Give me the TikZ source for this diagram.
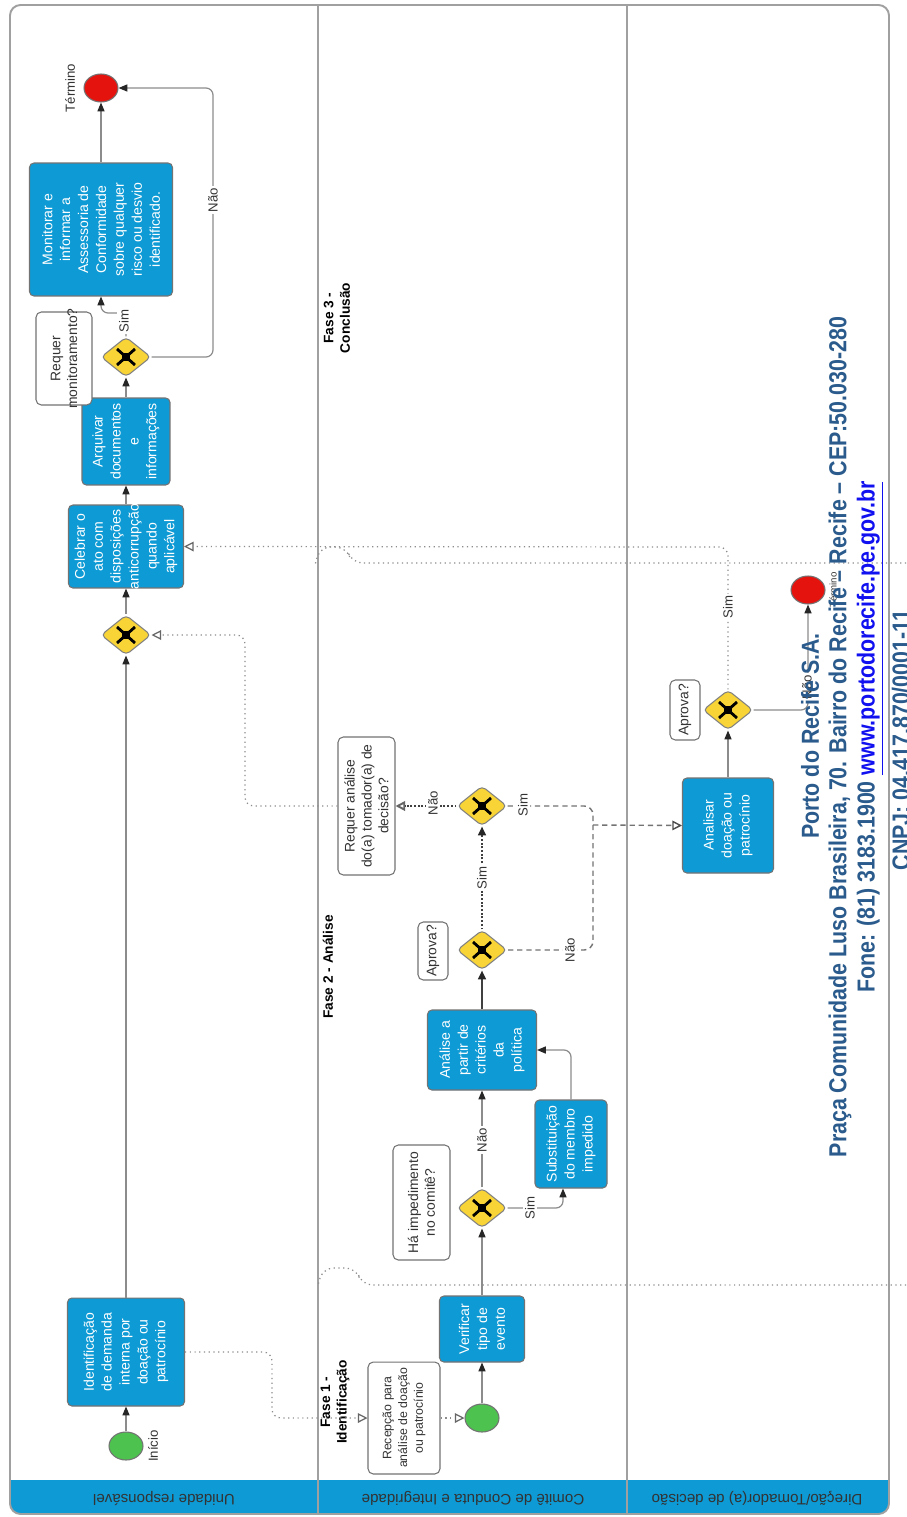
\documentclass[tikz,border=0pt]{standalone}
\usepackage{fontspec}
\usepackage{graphicx}
\setmainfont{Liberation Sans}
\newfontfamily\footfont[FakeStretch=0.87]{Liberation Sans}
\usetikzlibrary{arrows.meta,shapes.geometric,calc}
\definecolor{bpblue}{HTML}{0D9AD5}
\definecolor{gwyellow}{HTML}{F8D437}
\definecolor{stgreen}{HTML}{4DC24F}
\definecolor{enred}{HTML}{E5130E}
\definecolor{footblue}{HTML}{2A5B8C}
\definecolor{linkblue}{HTML}{1010F0}
\definecolor{lgray}{HTML}{8C8C8C}
\definecolor{fgray}{HTML}{A0A0A0}
\pgfdeclarelayer{bg}
\pgfsetlayers{bg,main}
\tikzset{
 taskbox/.style={draw=black!55, fill=bpblue, rounded corners=2.5pt, line width=0.6pt, inner sep=0pt},
 tasktext/.style={rotate=90, text=white, align=center, font=\fontsize{8}{10.2}\selectfont, inner sep=0pt},
 annbox/.style={draw=black!55, fill=white, rounded corners=3pt, line width=0.6pt, inner sep=0pt},
 anntext/.style={rotate=90, text=black!80, align=center, font=\fontsize{7.9}{9.6}\selectfont, inner sep=0pt},
 gw/.style={diamond, draw=black!50, fill=gwyellow, minimum width=1cm, minimum height=0.8cm, inner sep=0pt, rounded corners=2.5pt, line width=0.6pt},
 gwx/.style={line width=1.6pt, black},
 startev/.style={ellipse, draw=black!55, fill=stgreen, minimum width=0.68cm, minimum height=0.56cm, inner sep=0pt, line width=0.6pt},
 endev/.style={ellipse, draw=black!55, fill=enred, minimum width=0.68cm, minimum height=0.56cm, inner sep=0pt, line width=0.6pt},
 flow/.style={draw=lgray, line width=0.7pt, rounded corners=4pt, -{Triangle[length=5pt,width=4pt,color=black!85]}},
 msg/.style={draw=black!45, dotted, line width=0.7pt, rounded corners=5pt, -{Triangle[open,length=5.5pt,width=5.5pt,color=black!60]}},
 strongdot/.style={draw=black!75, densely dotted, line width=1.1pt},
 dashln/.style={draw=black!55, dash pattern=on 3pt off 2.2pt, line width=0.8pt, rounded corners=5pt},
 phase/.style={draw=black!45, dotted, line width=0.7pt, rounded corners=6pt},
 lbl/.style={rotate=90, font=\fontsize{7.5}{9}\selectfont, text=black!80, fill=white, inner sep=1pt},
 phaselbl/.style={rotate=90, font=\bfseries\fontsize{7.8}{9.4}\selectfont, align=center, inner sep=1pt, fill=white},
 lanelbl/.style={rotate=180, font=\fontsize{8.6}{10}\selectfont, text=black!80},
 foot/.style={rotate=90, text=footblue, font=\footfont\bfseries\fontsize{14}{17}\selectfont, inner sep=0pt}
}
\newcommand{\mytask}[6]{%
 \node[taskbox, minimum width=#4cm, minimum height=#5cm] (#1) at (#2,#3) {};
 \node[tasktext] (#1-t) at (#1.center) {#6};}
\newcommand{\myannot}[6]{%
 \node[annbox, minimum width=#4cm, minimum height=#5cm] (#1) at (#2,#3) {};
 \node[anntext] (#1-t) at (#1.center) {#6};}
\begin{document}
\begin{tikzpicture}[x=0.02cm,y=-0.02cm]
\useasboundingbox (0,0) rectangle (906,1517);
\begin{pgfonlayer}{bg}
 \fill[white] (0,0) rectangle (906,1517);
 \fill[bpblue, rounded corners=6pt] (10,1470) rectangle (889,1514);
 \fill[white] (11,1460) rectangle (888,1480);
 \draw[fgray, line width=1.1pt, rounded corners=6pt] (10,5) rectangle (889,1514);
 \draw[fgray, line width=1pt] (318,5) -- (318,1514);
 \draw[fgray, line width=1pt] (627,5) -- (627,1514);
 \draw[phase] (906,1285) -- (362,1285) -- (356,1268) -- (323,1268) -- (318,1285);
 \draw[phase] (906,563) -- (352,563) -- (346,547) -- (320,547) -- (315,565);
\end{pgfonlayer}

% lane labels
\node[lanelbl] (ln1) at (164,1498) {Unidade responsável};
\node[lanelbl] (ln2) at (473,1498) {Comitê de Conduta e Integridade};
\node[lanelbl] (ln3) at (757,1498) {Direção/Tomador(a) de decisão};

% lane 1
\node[startev] (start1) at (126,1446) {};
\node[lbl, fill=none] (start1-l) at (153,1446) {Início};
\mytask{idbox}{126}{1352}{2.34}{2.16}{Identificação\\de demanda\\interna por\\doação ou\\patrocínio}
\node[gw] (g5) at (126,635) {};
\mytask{celebrar}{126}{546.5}{2.30}{1.66}{Celebrar o\\ato com\\disposições\\anticorrupção\\quando\\aplicável}
\mytask{arquivar}{126}{441.5}{1.76}{1.74}{Arquivar\\documentos\\e\\informações}
\node[gw] (g6) at (126,357) {};
\myannot{amon}{64}{358.5}{1.12}{1.86}{Requer\\monitoramento?}
\mytask{monitorar}{101}{229.5}{2.86}{2.66}{Monitorar e\\informar a\\Assessoria de\\Conformidade\\sobre qualquer\\risco ou desvio\\identificado.}
\node[endev] (end1) at (101,88) {};
\node[lbl, fill=none] (end1-l) at (70,88) {Término};

% lane 2
\node[startev] (start2) at (482,1418) {};
\node[annbox, minimum width=1.44cm, minimum height=2.24cm] (recep) at (404,1418) {};
\node[anntext, font=\fontsize{7}{9}\selectfont] (recep-t) at (recep.center) {Recepção para\\análise de doação\\ou patrocínio};
\mytask{verificar}{482}{1329}{1.70}{1.32}{Verificar\\tipo de\\evento}
\node[gw] (g1) at (482,1208) {};
\myannot{imped}{421.5}{1202.5}{1.14}{2.30}{Há impedimento\\no comitê?}
\mytask{subst}{571}{1144}{1.44}{1.76}{Substituição\\do membro\\impedido}
\mytask{analise}{482}{1050}{2.18}{1.60}{Análise a\\partir de\\critérios\\da\\política}
\node[gw] (g2) at (482,950) {};
\myannot{aprova1}{433}{951}{0.60}{1.16}{Aprova?}
\node[gw] (g3) at (482,806) {};
\myannot{requer}{366.5}{806}{1.14}{2.76}{Requer análise\\do(a) tomador(a) de\\decisão?}

% lane 3
\mytask{analisar}{728}{825.5}{1.82}{1.90}{Analisar\\doação ou\\patrocínio}
\node[gw] (g4) at (728,710) {};
\myannot{aprova2}{685}{710}{0.60}{1.20}{Aprova?}
\node[endev] (end2) at (808,590) {};
\node[lbl, fill=none, font=\fontsize{5.5}{6}\selectfont] (end2-l) at (833,590) {Término};

% gateway marks
\foreach \g in {g1,g2,g3,g4,g5,g6}{
 \draw[gwx] ($(\g)+(-9,-8)$) -- ($(\g)+(9,8)$);
 \draw[gwx] ($(\g)+(-9,8)$) -- ($(\g)+(9,-8)$);
 \fill[black] ($(\g)+(-4,-4)$) rectangle ($(\g)+(4,4)$);
}

% phase labels
\node[phaselbl] (ph1) at (335,1402) {Fase 1 -\\Identificação};
\node[phaselbl] (ph2) at (328,967) {Fase 2 - Análise};
\node[phaselbl] (ph3) at (337,318) {Fase 3 -\\Conclusão};

% sequence flows
\draw[flow] (start1) -- (idbox);
\draw[flow] (idbox) -- (g5);
\draw[flow] (g5) -- (celebrar);
\draw[flow] (celebrar) -- (arquivar);
\draw[flow] (arquivar) -- (g6);
\draw[flow] (g6.north) -- (126,313) -| (monitorar.south);
\node[lbl] (l-sim6) at (124,321) {Sim};
\draw[flow] (g6.east) -- (213,357) -- (213,88) -- (end1.east);
\node[lbl] (l-nao6) at (213,200) {Não};
\draw[flow] (monitorar) -- (end1);

\draw[msg] (idbox.east) -- (272,1352) -- (272,1418) -- (recep.west);
\draw[msg] (recep.east) -- (start2.west);
\draw[flow] (start2) -- (verificar);
\draw[flow] (verificar) -- (g1);
\draw[flow] (g1) -- (analise);
\node[lbl] (l-nao1) at (482,1140) {Não};
\draw[flow] (g1.east) -| ([xshift=-0.16cm]subst.south);
\node[lbl] (l-sim1) at (530,1208) {Sim};
\draw[flow] (subst.north) |- (analise.east);
\draw[draw=black!75, line width=1.1pt, -{Triangle[length=5pt,width=4.4pt,color=black!85]}] (analise) -- (g2);
\draw[strongdot, -{Triangle[length=5pt,width=4.4pt,color=black!85]}] (g2) -- (g3);
\node[lbl] (l-sim2) at (482,878) {Sim};
\draw[strongdot, -{Triangle[open,length=5.5pt,width=5.5pt,color=black!60]}] (g3.west) -- (requer.east);
\node[lbl] (l-nao3) at (433,803) {Não};
\draw[msg] (requer.west) -- (245,806) -- (245,635) -- (g5.east);
\draw[dashln] (g3.east) -- (593,806) -- (593,950) -- (g2.east);
\draw[dashln, -{Triangle[open,length=5.5pt,width=5.5pt,color=black!70]}] (593,825) -- (analisar.west);
\node[lbl] (l-sim3) at (523,805) {Sim};
\node[lbl] (l-nao2) at (570,950) {Não};
\draw[flow] (analisar) -- (g4);
\draw[msg] (g4.north) -- (728,547) -- (celebrar.east);
\node[lbl] (l-sim4) at (728,607) {Sim};
\draw[flow] (g4.east) -| (end2.south);
\node[lbl] (l-nao4) at (807,687) {Não};

% footer
\node[foot] (f1) at (810,736) {Porto do Recife S.A.};
\node[foot] (f2) at (840,737) {Praça Comunidade Luso Brasileira, 70. Bairro do Recife – Recife – CEP:50.030-280};
\node[foot] (f3) at (870,737) {Fone: (81) 3183.1900 \textcolor{linkblue}{\underline{www.portodorecife.pe.gov.br}}};
\node[foot] (f4) at (901,740) {CNPJ: 04.417.870/0001-11};
\end{tikzpicture}
\end{document}
